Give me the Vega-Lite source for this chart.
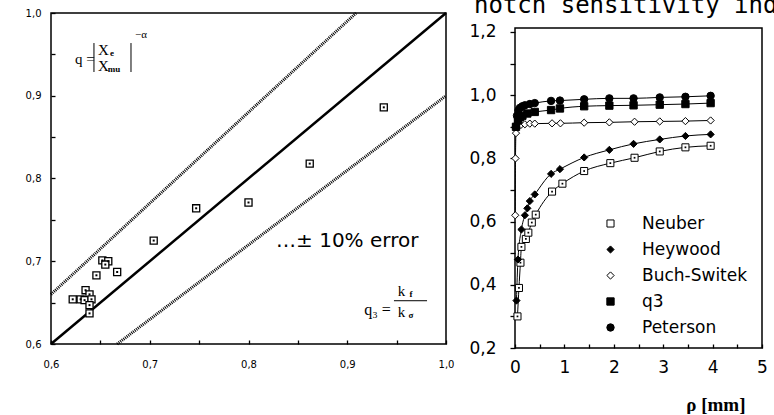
{
  "$schema": "https://vega.github.io/schema/vega-lite/v6.json",
  "background": "white",
  "padding": {"left": 24, "top": -6, "right": 0, "bottom": 0},
  "spacing": 13,
  "resolve": {"legend": {"shape": "independent", "fill": "independent", "size": "independent"}},
  "config": {
    "view": {"stroke": "black", "strokeWidth": 1.5},
    "axis": {"grid": false, "domain": false, "labelColor": "black", "tickColor": "black", "tickWidth": 1.3, "labelFont": "DejaVu Sans", "titleColor": "black", "labelOverlap": false, "labelFlush": false, "labelBound": false}
  },
  "datasets": {
    "left_pts": [
      {"x": 0.937, "y": 0.886}, {"x": 0.862, "y": 0.818}, {"x": 0.8, "y": 0.771}, {"x": 0.747, "y": 0.764},
      {"x": 0.704, "y": 0.725}, {"x": 0.652, "y": 0.701}, {"x": 0.658, "y": 0.7}, {"x": 0.655, "y": 0.696},
      {"x": 0.646, "y": 0.683}, {"x": 0.667, "y": 0.687}, {"x": 0.635, "y": 0.665}, {"x": 0.639, "y": 0.66},
      {"x": 0.622, "y": 0.654}, {"x": 0.63, "y": 0.654}, {"x": 0.634, "y": 0.653}, {"x": 0.641, "y": 0.654},
      {"x": 0.639, "y": 0.647}, {"x": 0.639, "y": 0.637}
    ],
    "left_lines": [
      {"line": "equal", "x": 0.6, "y": 0.6}, {"line": "equal", "x": 1.0, "y": 1.0},
      {"line": "plus10", "x": 0.6, "y": 0.66}, {"line": "plus10", "x": 0.909, "y": 1.0},
      {"line": "minus10", "x": 0.667, "y": 0.6}, {"line": "minus10", "x": 1.0, "y": 0.9}
    ],
    "left_text": [
      {"role": "main", "t": "q =", "x": 0.6344, "y": 0.9384},
      {"role": "main", "t": "X", "x": 0.6532, "y": 0.9492},
      {"role": "main", "t": "X", "x": 0.6532, "y": 0.93},
      {"role": "main", "t": "k", "x": 0.9549, "y": 0.658},
      {"role": "main", "t": "k", "x": 0.9549, "y": 0.633},
      {"role": "big", "t": "q₃ =", "x": 0.9306, "y": 0.635},
      {"role": "sub", "t": "e", "x": 0.6618, "y": 0.948},
      {"role": "sub", "t": "mu", "x": 0.6638, "y": 0.9287},
      {"role": "sub", "t": "f", "x": 0.9646, "y": 0.6568},
      {"role": "sub", "t": "σ", "x": 0.9646, "y": 0.6314},
      {"role": "sup", "t": "−α", "x": 0.6911, "y": 0.9698},
      {"role": "note", "t": "…± 10% error", "x": 0.8279, "y": 0.7172}
    ],
    "left_rules": [
      {"x": 0.6435, "x2": 0.6435, "y": 0.9637, "y2": 0.9287},
      {"x": 0.681, "x2": 0.681, "y": 0.9637, "y2": 0.9287},
      {"x": 0.9473, "x2": 0.9808, "y": 0.6523, "y2": 0.6523}
    ],
    "right_frame": [
      {"x": 0, "x2": 5, "y": 0.2, "y2": 1.2127}
    ],
    "right": [
      {"s": "Neuber", "x": 0.05, "y": 0.30}, {"s": "Neuber", "x": 0.08, "y": 0.39}, {"s": "Neuber", "x": 0.11, "y": 0.47},
      {"s": "Neuber", "x": 0.13, "y": 0.52}, {"s": "Neuber", "x": 0.22, "y": 0.545}, {"s": "Neuber", "x": 0.27, "y": 0.565},
      {"s": "Neuber", "x": 0.34, "y": 0.597}, {"s": "Neuber", "x": 0.42, "y": 0.622}, {"s": "Neuber", "x": 0.75, "y": 0.695},
      {"s": "Neuber", "x": 0.96, "y": 0.72}, {"s": "Neuber", "x": 1.4, "y": 0.76}, {"s": "Neuber", "x": 1.93, "y": 0.785},
      {"s": "Neuber", "x": 2.42, "y": 0.802}, {"s": "Neuber", "x": 2.93, "y": 0.822}, {"s": "Neuber", "x": 3.45, "y": 0.835},
      {"s": "Neuber", "x": 3.96, "y": 0.84},
      {"s": "Heywood", "x": 0.03, "y": 0.35}, {"s": "Heywood", "x": 0.06, "y": 0.48}, {"s": "Heywood", "x": 0.13, "y": 0.575},
      {"s": "Heywood", "x": 0.2, "y": 0.62}, {"s": "Heywood", "x": 0.25, "y": 0.642}, {"s": "Heywood", "x": 0.3, "y": 0.665},
      {"s": "Heywood", "x": 0.4, "y": 0.686}, {"s": "Heywood", "x": 0.73, "y": 0.751}, {"s": "Heywood", "x": 0.91, "y": 0.766},
      {"s": "Heywood", "x": 1.4, "y": 0.803}, {"s": "Heywood", "x": 1.91, "y": 0.827}, {"s": "Heywood", "x": 2.4, "y": 0.846},
      {"s": "Heywood", "x": 2.93, "y": 0.86}, {"s": "Heywood", "x": 3.45, "y": 0.871}, {"s": "Heywood", "x": 3.96, "y": 0.876},
      {"s": "Buch-Switek", "x": 0.005, "y": 0.62}, {"s": "Buch-Switek", "x": 0.01, "y": 0.8}, {"s": "Buch-Switek", "x": 0.02, "y": 0.88},
      {"s": "Buch-Switek", "x": 0.06, "y": 0.9}, {"s": "Buch-Switek", "x": 0.12, "y": 0.906}, {"s": "Buch-Switek", "x": 0.2, "y": 0.908},
      {"s": "Buch-Switek", "x": 0.3, "y": 0.91}, {"s": "Buch-Switek", "x": 0.4, "y": 0.91}, {"s": "Buch-Switek", "x": 0.75, "y": 0.911},
      {"s": "Buch-Switek", "x": 0.92, "y": 0.911}, {"s": "Buch-Switek", "x": 1.4, "y": 0.913}, {"s": "Buch-Switek", "x": 1.91, "y": 0.914},
      {"s": "Buch-Switek", "x": 2.42, "y": 0.916}, {"s": "Buch-Switek", "x": 2.93, "y": 0.917}, {"s": "Buch-Switek", "x": 3.45, "y": 0.918},
      {"s": "Buch-Switek", "x": 3.96, "y": 0.92},
      {"s": "q3", "x": 0.02, "y": 0.9}, {"s": "q3", "x": 0.06, "y": 0.92}, {"s": "q3", "x": 0.1, "y": 0.93},
      {"s": "q3", "x": 0.15, "y": 0.935}, {"s": "q3", "x": 0.25, "y": 0.942}, {"s": "q3", "x": 0.4, "y": 0.947},
      {"s": "q3", "x": 0.73, "y": 0.953}, {"s": "q3", "x": 0.91, "y": 0.958}, {"s": "q3", "x": 1.4, "y": 0.965},
      {"s": "q3", "x": 1.91, "y": 0.967}, {"s": "q3", "x": 2.4, "y": 0.968}, {"s": "q3", "x": 2.93, "y": 0.97},
      {"s": "q3", "x": 3.45, "y": 0.972}, {"s": "q3", "x": 3.96, "y": 0.975},
      {"s": "Peterson", "x": 0.02, "y": 0.9}, {"s": "Peterson", "x": 0.04, "y": 0.935}, {"s": "Peterson", "x": 0.07, "y": 0.952},
      {"s": "Peterson", "x": 0.1, "y": 0.96}, {"s": "Peterson", "x": 0.15, "y": 0.965}, {"s": "Peterson", "x": 0.2, "y": 0.968},
      {"s": "Peterson", "x": 0.3, "y": 0.972}, {"s": "Peterson", "x": 0.4, "y": 0.975}, {"s": "Peterson", "x": 0.73, "y": 0.982},
      {"s": "Peterson", "x": 0.91, "y": 0.983}, {"s": "Peterson", "x": 1.4, "y": 0.987}, {"s": "Peterson", "x": 1.91, "y": 0.99},
      {"s": "Peterson", "x": 2.4, "y": 0.99}, {"s": "Peterson", "x": 2.93, "y": 0.993}, {"s": "Peterson", "x": 3.45, "y": 0.995},
      {"s": "Peterson", "x": 3.96, "y": 0.998}
    ]
  },
  "hconcat": [
    {
      "width": 395,
      "height": 331,
      "encoding": {
        "x": {"field": "x", "type": "quantitative", "scale": {"domain": [0.6, 1.0], "nice": false, "zero": false},
          "axis": {"title": null, "values": [0.6, 0.65, 0.7, 0.75, 0.8, 0.85, 0.9, 0.95, 1.0],
            "labelExpr": "round(datum.value*100) % 10 == 0 ? replace(format(datum.value, '.1f'), '.', ',') : ''",
            "tickSize": -4, "labelPadding": 19, "labelFontSize": 10}},
        "y": {"field": "y", "type": "quantitative", "scale": {"domain": [0.6, 1.0], "nice": false, "zero": false},
          "axis": {"title": null, "values": [0.6, 0.65, 0.7, 0.75, 0.8, 0.85, 0.9, 0.95, 1.0],
            "labelExpr": "round(datum.value*100) % 10 == 0 ? replace(format(datum.value, '.1f'), '.', ',') : ''",
            "tickSize": -4, "labelPadding": 14, "labelFontSize": 10}}
      },
      "layer": [
        {
          "data": {"name": "left_lines"},
          "transform": [{"filter": "datum.line == 'equal'"}],
          "mark": {"type": "line", "color": "black", "strokeWidth": 2.5},
          "encoding": {"detail": {"field": "line"}}
        },
        {
          "data": {"name": "left_lines"},
          "transform": [{"filter": "datum.line != 'equal'"}],
          "mark": {"type": "line", "color": "black", "strokeWidth": 3, "strokeDash": [1, 1]},
          "encoding": {"detail": {"field": "line"}}
        },
        {
          "data": {"name": "left_pts"},
          "mark": {"type": "point", "shape": "square", "size": 50, "stroke": "black", "strokeWidth": 1.3, "fill": "white", "filled": false, "opacity": 1}
        },
        {
          "data": {"name": "left_pts"},
          "mark": {"type": "point", "shape": "square", "size": 4, "color": "black", "filled": true, "opacity": 1}
        },
        {
          "data": {"name": "left_rules"},
          "mark": {"type": "rule", "color": "black", "strokeWidth": 1},
          "encoding": {"x2": {"field": "x2"}, "y2": {"field": "y2"}}
        },
        {
          "data": {"name": "left_text"},
          "transform": [{"filter": "datum.role == 'main'"}],
          "mark": {"type": "text", "font": "Liberation Serif", "fontSize": 15, "align": "center", "baseline": "alphabetic", "color": "black"},
          "encoding": {"text": {"field": "t"}}
        },
        {
          "data": {"name": "left_text"},
          "transform": [{"filter": "datum.role == 'big'"}],
          "mark": {"type": "text", "font": "Liberation Serif", "fontSize": 16, "align": "center", "baseline": "alphabetic", "color": "black"},
          "encoding": {"text": {"field": "t"}}
        },
        {
          "data": {"name": "left_text"},
          "transform": [{"filter": "datum.role == 'sub'"}],
          "mark": {"type": "text", "font": "Liberation Serif", "fontSize": 9, "fontWeight": "bold", "align": "center", "baseline": "alphabetic", "color": "black"},
          "encoding": {"text": {"field": "t"}}
        },
        {
          "data": {"name": "left_text"},
          "transform": [{"filter": "datum.role == 'sup'"}],
          "mark": {"type": "text", "font": "Liberation Serif", "fontSize": 11, "align": "center", "baseline": "alphabetic", "color": "black"},
          "encoding": {"text": {"field": "t"}}
        },
        {
          "data": {"name": "left_text"},
          "transform": [{"filter": "datum.role == 'note'"}],
          "mark": {"type": "text", "font": "DejaVu Sans", "fontSize": 20, "align": "left", "baseline": "alphabetic", "color": "black"},
          "encoding": {"text": {"field": "t"}}
        }
      ]
    },
    {
      "width": 247,
      "height": 335,
      "view": {"stroke": null},
      "title": {"text": "notch sensitivity index", "font": "DejaVu Sans Mono", "fontSize": 24, "fontWeight": "normal", "anchor": "start", "frame": "group", "dx": -41, "offset": -5, "color": "black"},
      "encoding": {
        "x": {"field": "x", "type": "quantitative", "scale": {"domain": [0, 5], "nice": false, "zero": false},
          "axis": {"title": "ρ [mm]", "values": [0, 0.5, 1, 1.5, 2, 2.5, 3, 3.5, 4, 4.5, 5],
            "labelExpr": "datum.value % 1 == 0 ? format(datum.value, 'd') : ''",
            "tickSize": -4, "labelPadding": 15, "labelFontSize": 17,
            "titleFont": "Liberation Serif", "titleFontSize": 19, "titleFontWeight": "bold",
            "titleAnchor": "end", "titleAlign": "right", "titleX": 230, "titleY": 62, "titleBaseline": "alphabetic"}},
        "y": {"field": "y", "type": "quantitative", "scale": {"domain": [0.2, 1.2601], "nice": false, "zero": false},
          "axis": {"title": null, "values": [0.2, 0.3, 0.4, 0.5, 0.6, 0.7, 0.8, 0.9, 1.0, 1.1, 1.2],
            "labelExpr": "round(datum.value*10) % 2 == 0 ? replace(format(datum.value, '.1f'), '.', ',') : ''",
            "tickSize": 5, "labelPadding": 14, "labelFontSize": 17}}
      },
      "layer": [
        {
          "data": {"name": "right_frame"},
          "mark": {"type": "rect", "fillOpacity": 0, "stroke": "black", "strokeWidth": 1.5},
          "encoding": {"x2": {"field": "x2"}, "y2": {"field": "y2"}}
        },
        {
          "data": {"name": "right"},
          "mark": {"type": "line", "color": "black", "strokeWidth": 1, "interpolate": "monotone"},
          "encoding": {"detail": {"field": "s"}}
        },
        {
          "data": {"name": "right"},
          "mark": {"type": "point", "filled": true, "stroke": "black", "strokeWidth": 1, "opacity": 1},
          "encoding": {
            "shape": {"field": "s", "type": "nominal",
              "scale": {"domain": ["Neuber", "Heywood", "Buch-Switek", "q3", "Peterson"], "range": ["square", "diamond", "diamond", "square", "circle"]},
              "legend": {"orient": "none", "legendX": 87, "legendY": 202, "title": null, "labelFont": "DejaVu Sans", "labelFontSize": 17, "labelColor": "black",
                "rowPadding": 8, "labelOffset": 23, "padding": 0, "symbolStrokeColor": "black", "symbolStrokeWidth": 1}},
            "fill": {"field": "s", "type": "nominal",
              "scale": {"domain": ["Neuber", "Heywood", "Buch-Switek", "q3", "Peterson"], "range": ["white", "black", "white", "black", "black"]}},
            "size": {"field": "s", "type": "nominal",
              "scale": {"domain": ["Neuber", "Heywood", "Buch-Switek", "q3", "Peterson"], "range": [50, 55, 42, 22, 80]}}
          }
        },
        {
          "data": {"name": "right"},
          "transform": [{"filter": "datum.s == 'Neuber'"}],
          "mark": {"type": "point", "shape": "square", "size": 3, "color": "black", "filled": true, "opacity": 1}
        }
      ]
    }
  ]
}
